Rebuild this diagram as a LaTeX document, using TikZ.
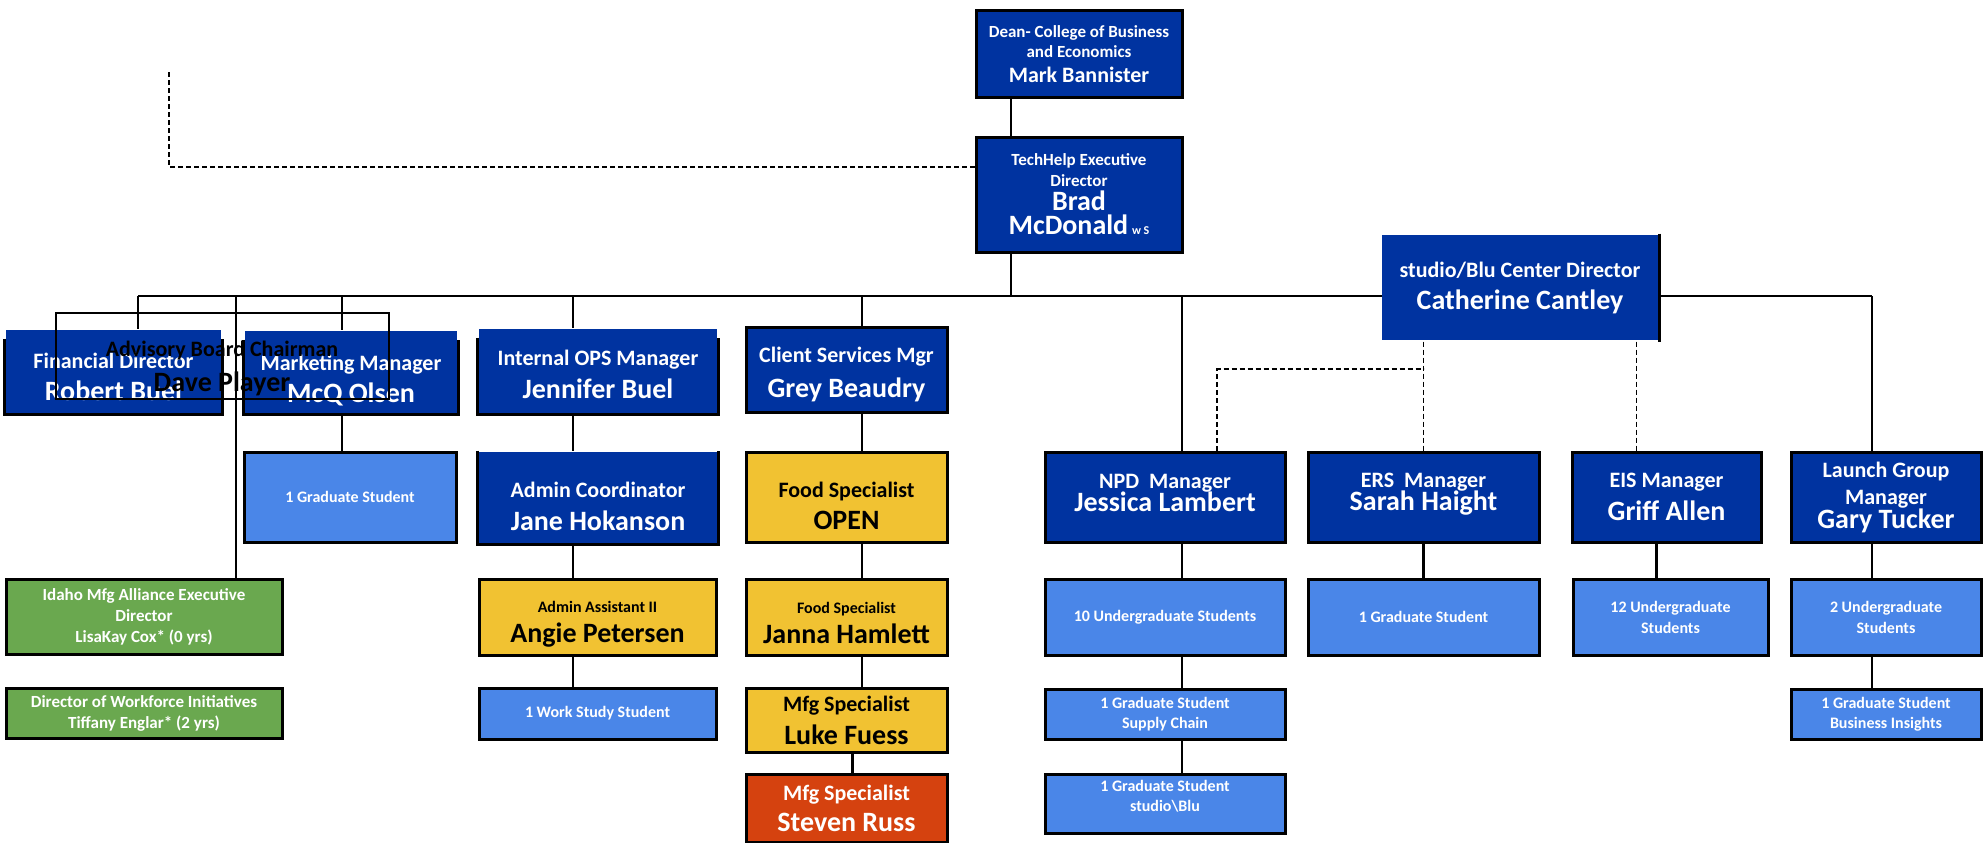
\documentclass[tikz,border=0pt]{standalone}
\usepackage{fontspec}
\setmainfont{Carlito}
\usetikzlibrary{backgrounds}

\definecolor{navy}{HTML}{0033A0}
\definecolor{sky}{HTML}{4A86E8}
\definecolor{gold}{HTML}{F1C232}
\definecolor{rust}{HTML}{D5420F}
\definecolor{leaf}{HTML}{6AA84F}
\setlength{\lineskiplimit}{-30pt}
\newcommand{\boxfont}[2]{\bfseries\fontsize{#1}{#2}\selectfont}
\newcommand{\pname}[1]{{\fontsize{28}{30}\selectfont #1}}

\begin{document}
\begin{tikzpicture}[x=1pt, y=-1pt,
    unit/.style={rectangle, draw=black, line width=3pt, inner sep=0pt, align=center,
                 fill=navy, text=white, font=\boxfont{22}{32}},
    student/.style={unit, fill=sky, font=\boxfont{16}{20}},
    special/.style={unit, fill=gold, text=black},
    alliance/.style={unit, fill=leaf, font=\boxfont{17}{21}},
    link/.style={line width=2.5pt},
    report/.style={line width=1.5pt, dash pattern=on 5pt off 3pt}]
    \useasboundingbox (0,0) rectangle (1986,843);

    % top of the chart
    \node[unit, minimum width=206pt, minimum height=86pt, font=\boxfont{17}{20}] (dean) at (1079,54)
        {Dean- College of Business\\and Economics\\[5pt]{\fontsize{22}{24}\selectfont Mark Bannister}};
    \node[unit, minimum width=206pt, minimum height=115pt, font=\boxfont{17}{21}] (tech) at (1079,194.5)
        {TechHelp Executive\\Director\\[3pt]\pname{Brad}\\[3pt]\pname{McDonald}~{\fontsize{12}{12}\selectfont w S}};
    \node[unit, draw=none, minimum width=276pt, minimum height=105pt] (cath) at (1520,287.5)
        {studio/Blu Center Director\\\pname{Catherine Cantley}};

    % left branches
    \node[unit, draw=none, minimum width=215pt, minimum height=83pt, text height=58pt] (fin) at (113.5,371.5) {Financial Director\\\pname{Robert Buel}};
    \node[unit, draw=none, minimum width=212pt, minimum height=82pt, text height=64pt] (mkt) at (351,372) {Marketing Manager\\\pname{McQ Olsen}};
    \node[unit, draw=none, minimum width=238pt, minimum height=84pt, font=\boxfont{22}{33}, text height=55pt] (ops) at (598,371) {Internal OPS Manager\\\pname{Jennifer Buel}};
    \node[unit, minimum width=201pt, minimum height=85pt, font=\boxfont{22}{35}, text height=61pt] (cli) at (846.5,369.5) {Client Services Mgr\\\pname{Grey Beaudry}};
    \node[student, minimum width=212pt, minimum height=90pt] (grad) at (350,497) {1 Graduate Student};
    \node[unit, draw=none, minimum width=238pt, minimum height=91pt, font=\boxfont{22}{33}, text height=67pt] (coord) at (598,497.5) {Admin Coordinator\\\pname{Jane Hokanson}};
    \node[special, minimum width=201pt, minimum height=90pt, text height=66pt] (food1) at (846.5,497) {Food Specialist\\\pname{OPEN}};
    \node[special, minimum width=237pt, minimum height=76pt, font=\boxfont{16}{30}, text height=55pt] (asst) at (597.5,617) {Admin Assistant II\\\pname{Angie Petersen}};
    \node[special, minimum width=201pt, minimum height=76pt, font=\boxfont{16}{30}, text height=53pt] (food2) at (846.5,617) {Food Specialist\\\pname{Janna Hamlett}};
    \node[student, minimum width=237pt, minimum height=51pt] (work) at (597.5,713.5) {1 Work Study Student};
    \node[special, minimum width=201pt, minimum height=64pt, font=\boxfont{22}{33}] (mfg1) at (846.5,720) {Mfg Specialist\\\pname{Luke Fuess}};
    \node[unit, fill=rust, minimum width=201pt, minimum height=68pt, font=\boxfont{22}{31}] (mfg2) at (846.5,808) {Mfg Specialist\\\pname{Steven Russ}};
    \node[alliance, minimum width=276pt, minimum height=75pt] (idaho) at (144,616.5) {Idaho Mfg Alliance Executive\\Director\\LisaKay Cox* (0 yrs)};
    \node[alliance, minimum width=276pt, minimum height=50pt] (force) at (144,713) {Director of Workforce Initiatives\\Tiffany Englar* (2 yrs)};

    % studio/Blu branches
    \node[unit, minimum width=240pt, minimum height=90pt, font=\boxfont{22}{23}, text depth=8pt] (npd) at (1165,497) {NPD\ \ Manager\\\pname{Jessica Lambert}};
    \node[unit, minimum width=231pt, minimum height=90pt, font=\boxfont{22}{23}, text depth=11pt] (ers) at (1423.5,497) {ERS\ \ Manager\\\pname{Sarah Haight}};
    \node[unit, minimum width=189pt, minimum height=90pt, font=\boxfont{22}{33}] (eis) at (1666.5,497) {EIS Manager\\\pname{Griff Allen}};
    \node[unit, minimum width=190pt, minimum height=90pt, font=\boxfont{22}{24}] (launch) at (1886,497) {Launch Group\\[3pt]Manager\\\pname{Gary Tucker}};
    \node[student, minimum width=240pt, minimum height=76pt] (ug10) at (1165,617) {10 Undergraduate Students};
    \node[student, minimum width=231pt, minimum height=76pt] (grad2) at (1423.5,617) {1 Graduate Student};
    \node[student, minimum width=195pt, minimum height=76pt, font=\boxfont{16}{21}] (ug12) at (1670.5,617) {12 Undergraduate\\Students};
    \node[student, minimum width=190pt, minimum height=76pt, font=\boxfont{16}{21}] (ug2) at (1886,617) {2 Undergraduate\\Students};
    \node[student, minimum width=240pt, minimum height=50pt] (supply) at (1165,714) {1 Graduate Student\\Supply Chain};
    \node[student, minimum width=240pt, minimum height=59pt, text depth=16pt] (studio) at (1165,803.5) {1 Graduate Student\\studio\textbackslash Blu};
    \node[student, minimum width=190pt, minimum height=50pt] (insight) at (1886,714) {1 Graduate Student\\Business Insights};

    % borders without a top edge
    \foreach \n/\s in {fin/10pt, mkt/10pt, ops/10pt, coord/0pt}
        \draw[line width=3pt] ([yshift=-\s]\n.north west) -- (\n.south west) -- (\n.south east) -- ([yshift=-\s]\n.north east);
    \draw[line width=3pt] (cath.north east) -- (cath.south east);

    % advisory board over the first two boxes
    \node[draw=black, line width=2.5pt, minimum width=333pt, minimum height=86pt] (board) at (222.5,356) {};
    \node[align=center, font=\boxfont{22}{35}] (chair) at (222,368) {Advisory Board Chairman\\\pname{Dave Player}};

    % connectors
    \begin{scope}[on background layer]
        \coordinate (c0) at (138,296);
        \coordinate (c1) at (236,296);
        \coordinate (c2) at (342,296);
        \coordinate (c3) at (573,296);
        \coordinate (c4) at (862,296);
        \coordinate (c5) at (1011,296);
        \coordinate (c6) at (1182,296);
        \coordinate (c7) at (1872,296);
        \coordinate (advisor) at (169,70);
        \coordinate (split) at (1423.5,369);
        \draw[link] (c0) -- (c7);
        \draw[link] (c5 |- tech.south) -- (c5);
        \foreach \c/\n in {c0/fin, c2/mkt, c3/ops, c4/cli, c6/npd, c7/launch}
            \draw[link] (\c) -- (\c |- \n.north);
        \draw[line width=1.2pt] (c1) -- (c1 |- idaho.north);
        \foreach \c/\a/\b in {c5/dean/tech, c2/mkt/grad, c3/ops/coord, c3/coord/asst, c3/asst/work,
                              c4/cli/food1, c4/food1/food2, c4/food2/mfg1, c6/npd/ug10, c6/ug10/supply,
                              c6/supply/studio, c7/launch/ug2, c7/ug2/insight}
            \draw[link] (\c |- \a.south) -- (\c |- \b.north);
        \draw[link] ([xshift=6pt]mfg1.south) -- ([xshift=6pt]mfg2.north);
        \draw[link] (ers.south) -- (grad2.north);
        \draw[link] ([xshift=-10pt]eis.south) -- ([xshift=-10pt]eis.south |- ug12.north);
        % dashed reporting lines
        \draw[report] ([yshift=27.5pt]tech.west) -| (advisor);
        \draw[report] (ers.north |- cath.south) -- (ers.north);
        \draw[report] ([xshift=52pt]npd.north) |- (split);
        \draw[report] ([xshift=-30pt]eis.north |- cath.south) -- ([xshift=-30pt]eis.north);
    \end{scope}
\end{tikzpicture}
\end{document}
